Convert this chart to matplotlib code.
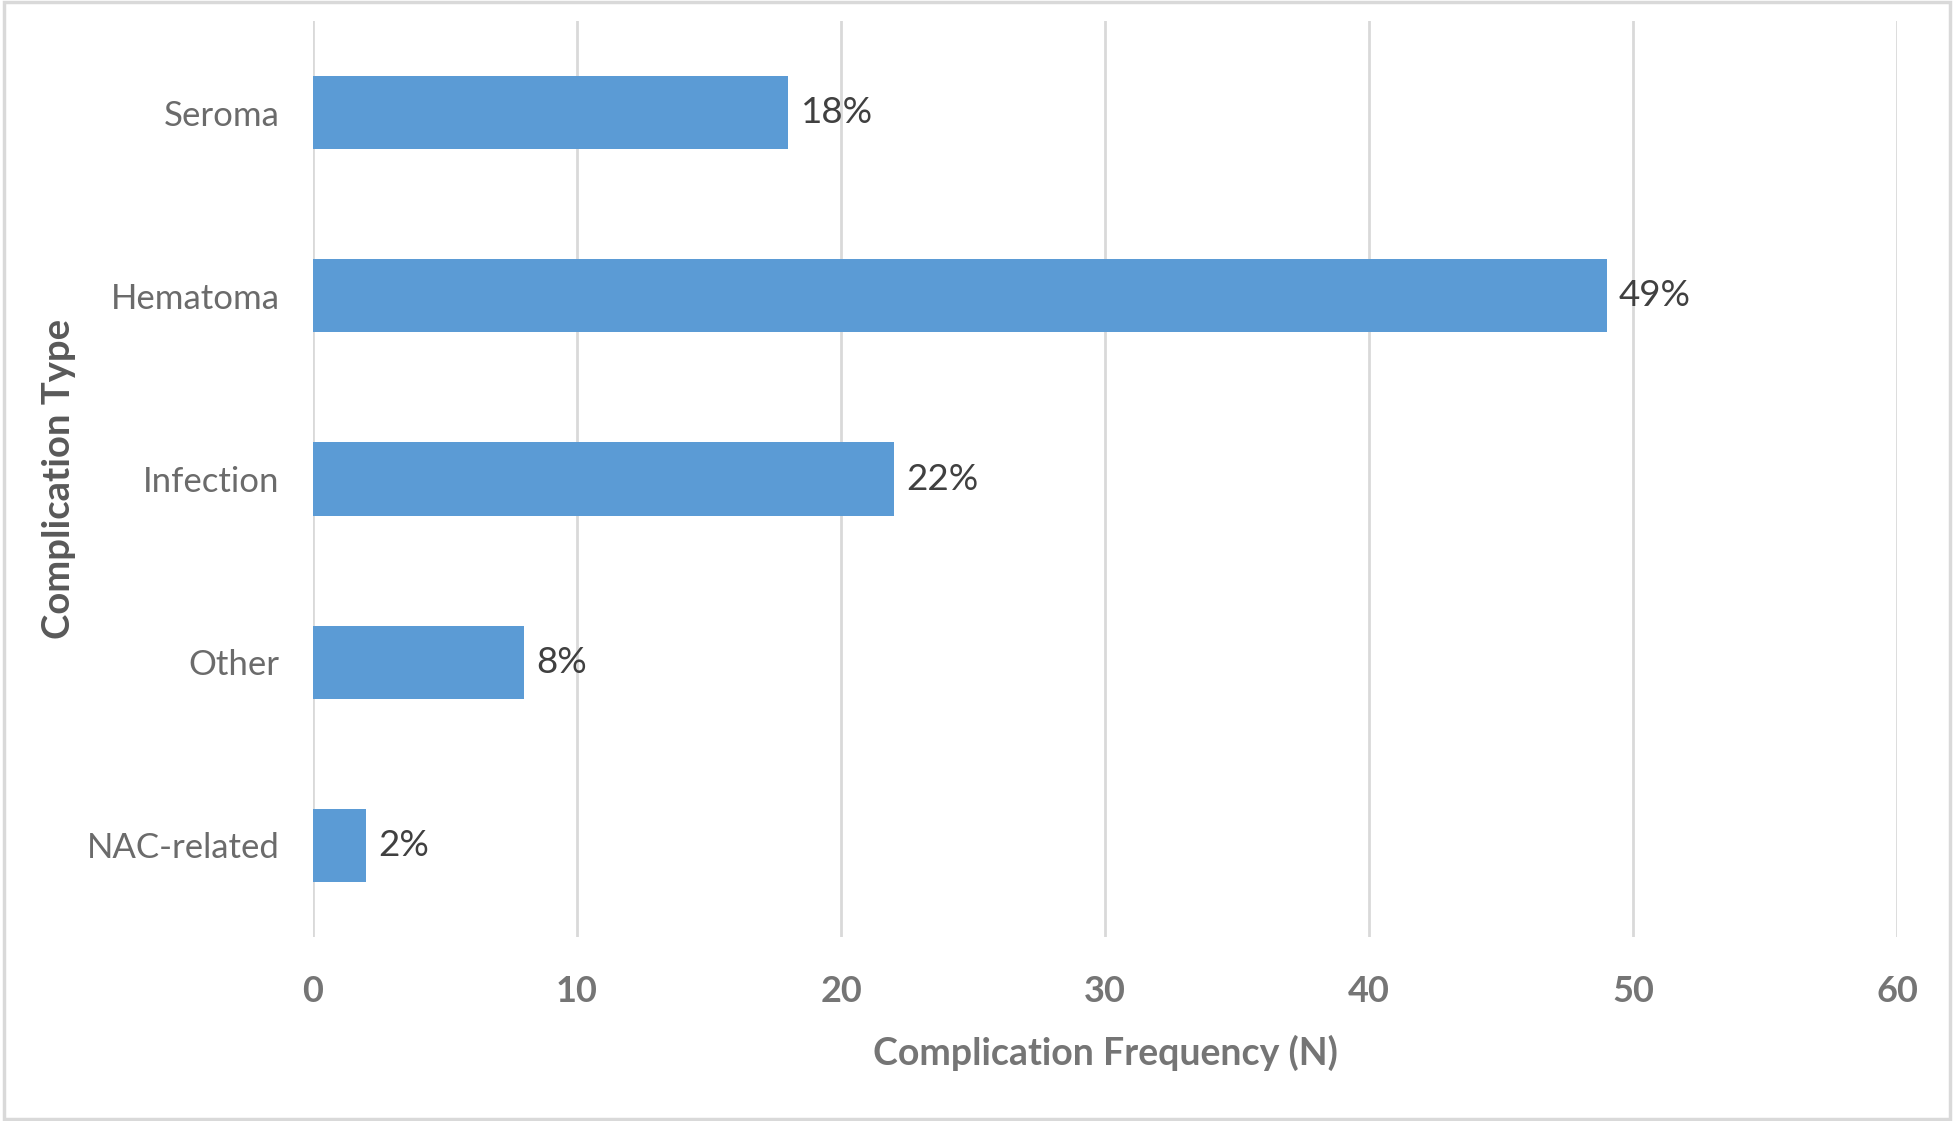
import matplotlib.pyplot as plt
from matplotlib.patches import Rectangle

categories = ["NAC-related", "Other", "Infection", "Hematoma", "Seroma"]
counts = [2, 8, 22, 49, 18]
pct_labels = ["2%", "8%", "22%", "49%", "18%"]
x_ticks = [0, 10, 20, 30, 40, 50, 60]

plt.rcParams['font.family'] = ['Lato', 'DejaVu Sans']

fig = plt.figure(figsize=(19.54, 11.21), dpi=100)
ax = fig.add_axes([313 / 1954, 1 - 937 / 1121, (1897 - 313) / 1954, (937 - 21) / 1121])

ax.barh(range(len(categories)), counts, height=0.4, color="#5B9BD5", zorder=3)
for i, (v, lab) in enumerate(zip(counts, pct_labels)):
    ax.annotate(lab, (v, i), xytext=(9, 0), textcoords="offset points",
                va="center", ha="left", fontsize=26.5, color="#404040")

ax.set_xlim(0, 60)
ax.set_ylim(-0.5, len(categories) - 0.5)
ax.set_xticks(x_ticks)
ax.set_yticks(range(len(categories)))
ax.set_yticklabels(categories, fontsize=25, color="#6b6b6b")
ax.set_xticklabels([str(t) for t in x_ticks], fontsize=26, fontweight="bold", color="#757575")
ax.tick_params(length=0)
ax.tick_params(axis="y", pad=24)
ax.tick_params(axis="x", pad=27)
ax.grid(axis="x", color="#d9d9d9", linewidth=2, zorder=0)
for s in ax.spines.values():
    s.set_visible(False)

ax.set_xlabel("Complication Frequency (N)", fontsize=27, fontweight="bold", color="#757575", labelpad=20)
ax.set_ylabel("Complication Type", fontsize=27.5, fontweight="bold", color="#595959", labelpad=8)

fig.patches.append(Rectangle((0.002, 0.002), 0.996, 0.996, transform=fig.transFigure,
                             fill=False, edgecolor="#d9d9d9", linewidth=2.5))

fig.savefig("out.png", dpi=100)
